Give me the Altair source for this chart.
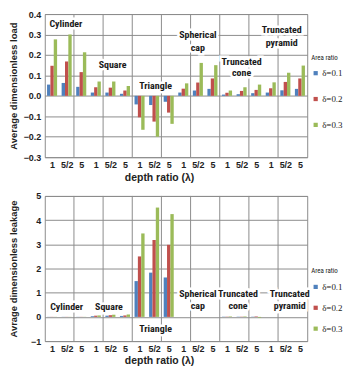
import altair as alt
import pandas as pd

depth_labels = ["1", "5/2", "5"]
series = ["δ=0.1", "δ=0.2", "δ=0.3"]
colors = ["#4F81BD", "#C0504D", "#9BBB59"]

# 18 groups: Cylinder, Square, Triangle, Spherical cap, Truncated cone, Truncated pyramid x (1, 5/2, 5)
load_d01 = [0.055, 0.063, 0.044, 0.016, 0.016, 0.010, -0.042, -0.045, -0.029,
            0.016, 0.026, 0.034, 0.006, 0.008, 0.013, 0.016, 0.027, 0.034]
load_d02 = [0.147, 0.168, 0.116, 0.042, 0.040, 0.026, -0.105, -0.126, -0.082,
            0.035, 0.065, 0.085, 0.015, 0.024, 0.029, 0.037, 0.068, 0.085]
load_d03 = [0.276, 0.300, 0.213, 0.070, 0.070, 0.048, -0.166, -0.200, -0.137,
            0.061, 0.161, 0.150, 0.026, 0.042, 0.055, 0.066, 0.113, 0.148]

leak_d01 = [0.005, 0.005, 0.005, 0.03, 0.05, 0.04, 1.48, 1.83, 1.63,
            0.0, 0.0, 0.0, 0.01, 0.01, 0.01, 0.0, 0.0, 0.0]
leak_d02 = [0.005, 0.005, 0.005, 0.05, 0.07, 0.06, 2.50, 3.18, 2.98,
            0.0, 0.0, 0.0, 0.01, 0.01, 0.02, 0.0, 0.0, 0.0]
leak_d03 = [0.005, 0.005, 0.005, 0.06, 0.09, 0.10, 3.45, 4.52, 4.25,
            0.0, 0.0, 0.0, 0.02, 0.02, -0.03, 0.0, 0.0, 0.0]

top_label_text = ["Cylinder", "Square", "Triangle", "Spherical", "cap",
                  "Truncated", "cone", "Truncated", "pyramid"]
top_label_g = [0.95, 4.15, 7.1, 10.0, 10.0, 13.0, 13.0, 15.75, 15.75]
top_label_v = [0.35, 0.15, 0.05, 0.295, 0.235, 0.165, 0.11, 0.32, 0.26]

bot_label_text = ["Cylinder", "Square", "Triangle", "Spherical", "cap",
                  "Truncated", "cone", "Truncated", "pyramid"]
bot_label_g = [1.0, 3.9, 7.1, 10.0, 10.0, 12.75, 12.75, 16.3, 16.3]
bot_label_v = [0.4, 0.4, -0.52, 0.96, 0.44, 0.96, 0.44, 0.96, 0.44]

OFF = [-0.23, 0.0, 0.23]
HW = 0.115
FONT = "Liberation Sans"
NARROW = "Liberation Sans Narrow, Roboto Condensed, Liberation Sans"
GRID = "#8c8c8c"


def bars_df(s1, s2, s3):
    rows = []
    for si, vals in enumerate([s1, s2, s3]):
        for g, v in enumerate(vals):
            rows.append({"g": g, "series": series[si], "value": v,
                         "x0": g + OFF[si] - HW, "x1": g + OFF[si] + HW})
    return pd.DataFrame(rows)


def panel(df, lab_text, lab_g, lab_v, ydom, ystep, fmt, ytitle, height, legY, rowPad):
    xs = alt.Scale(domain=[-0.5, 17.5], nice=False, zero=False)
    ys = alt.Scale(domain=ydom, nice=False, zero=False)
    xaxis = alt.Axis(values=list(range(18)),
                     labelExpr="['1','5/2','5'][datum.value % 3]",
                     labelOverlap=False, labelFlush=False,
                     grid=False, ticks=False, domain=False, title="depth ratio (λ)",
                     labelFont=FONT, labelFontWeight="bold", labelFontSize=9,
                     labelColor="#222", labelPadding=3,
                     titleFont=FONT, titleFontWeight="bold", titleFontSize=10.5,
                     titleColor="#222", titlePadding=3, titleX=115)
    ticks = []
    v = ydom[0]
    while v <= ydom[1] + 1e-9:
        ticks.append(round(v, 4))
        v += ystep
    yaxis = alt.Axis(values=ticks, format=fmt, grid=True, gridColor=GRID, gridWidth=1,
                     labelOverlap=False, labelFlush=False,
                     ticks=False, domain=False, title=ytitle,
                     labelFont=FONT, labelFontWeight="bold", labelFontSize=9,
                     labelColor="#222", labelPadding=4, minExtent=22, maxExtent=22,
                     titleFont=FONT, titleFontWeight="bold", titleFontSize=9.5,
                     titleColor="#222", titlePadding=4)
    bars = alt.Chart(df).mark_bar().encode(
        x=alt.X("x0:Q", scale=xs, axis=xaxis, title="depth ratio (λ)"),
        x2="x1:Q",
        y=alt.Y("value:Q", scale=ys, axis=yaxis, title=ytitle),
        y2=alt.datum(0),
        color=alt.Color("series:N", scale=alt.Scale(domain=series, range=colors),
                        legend=alt.Legend(title="Area ratio", orient="none",
                                          legendX=268, legendY=legY,
                                          titleFont=NARROW,
                                          titleFontSize=7, titleFontWeight="normal",
                                          titleColor="#222", titlePadding=8,
                                          labelFont="Liberation Serif", labelFontSize=9,
                                          labelColor="#222", symbolType="square",
                                          symbolSize=18, symbolStrokeWidth=0,
                                          rowPadding=rowPad, labelOffset=2)),
    )
    rules_df = pd.DataFrame({"xg": [k + 0.5 for k in range(1, 17, 2)]})
    rules = alt.Chart(rules_df).mark_rule(color=GRID, strokeWidth=1).encode(
        x=alt.X("xg:Q", scale=xs, axis=xaxis, title="depth ratio (λ)")
    )
    ldf = pd.DataFrame({"t": lab_text, "g": lab_g, "v": lab_v})
    halo = alt.Chart(ldf).mark_text(font=NARROW, fontWeight="bold", fontSize=10,
                                    stroke="white", strokeWidth=5, fill="white").encode(
        x=alt.X("g:Q", scale=xs, axis=xaxis, title="depth ratio (λ)"),
        y=alt.Y("v:Q", scale=ys, axis=yaxis, title=ytitle), text="t:N")
    txt = alt.Chart(ldf).mark_text(font=NARROW, fontWeight="bold", fontSize=10,
                                   color="#1a1a1a").encode(
        x=alt.X("g:Q", scale=xs, axis=xaxis, title="depth ratio (λ)"),
        y=alt.Y("v:Q", scale=ys, axis=yaxis, title=ytitle), text="t:N")
    return alt.layer(bars, rules, halo, txt).properties(width=264, height=height)


top = panel(bars_df(load_d01, load_d02, load_d03), top_label_text, top_label_g, top_label_v,
            [-0.3, 0.4], 0.1, ".1f", "Average dimensionless load", 144, 40, 16)
bot = panel(bars_df(leak_d01, leak_d02, leak_d03), bot_label_text, bot_label_g, bot_label_v,
            [-1, 5], 1, "d", "Avrage dimensionless leakage", 146, 72, 11)

chart = alt.vconcat(top, bot, spacing=8).resolve_scale(color="independent").resolve_legend(
    color="independent"
).properties(padding={"left": 0, "top": 0, "right": 0, "bottom": 0}, background="white"
).configure_view(stroke=GRID, strokeWidth=1)

chart.save("out.html", embed_options={"renderer": "svg", "actions": False})
